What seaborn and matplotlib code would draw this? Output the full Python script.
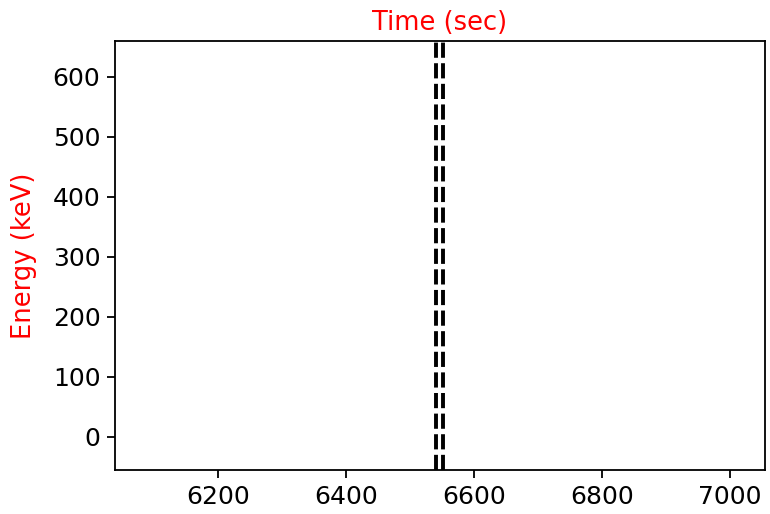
import matplotlib
matplotlib.use("Agg")
import matplotlib.pyplot as plt
import seaborn as sns
import pandas as pd

# Data
event_times = [6541, 6552]          # vertical dashed markers (sec)
x_limits = [6039, 7055]
y_limits = [-55, 660]
x_ticks = [6200, 6400, 6600, 6800, 7000]
y_ticks = [0, 100, 200, 300, 400, 500, 600]
title_text = "Time (sec)"
ylabel_text = "Energy (keV)"

sns.set_style("ticks")
plt.rcParams['font.family'] = ['DejaVu Sans']

fig = plt.figure(figsize=(7.7, 5.14), dpi=100)
ax = fig.add_axes([115/770, 1 - 470/514, 650/770, 429/514])

df = pd.DataFrame({"t": event_times})
for t in df["t"]:
    ax.axvline(t, color="black", linewidth=2.8, linestyle=(0, (3.9, 1.4)))

ax.set_xlim(*x_limits)
ax.set_ylim(*y_limits)
ax.set_xticks(x_ticks)
ax.set_yticks(y_ticks)
ax.tick_params(axis="both", labelsize=18, length=5.5, width=1.3, color="black",
               labelcolor="black", pad=5)
for s in ax.spines.values():
    s.set_linewidth(1.3)
    s.set_color("black")
ax.set_title(title_text, color="red", fontsize=18.5, pad=8)
ax.set_ylabel(ylabel_text, color="red", fontsize=18.5, labelpad=11)

fig.savefig("out.png", dpi=100)
